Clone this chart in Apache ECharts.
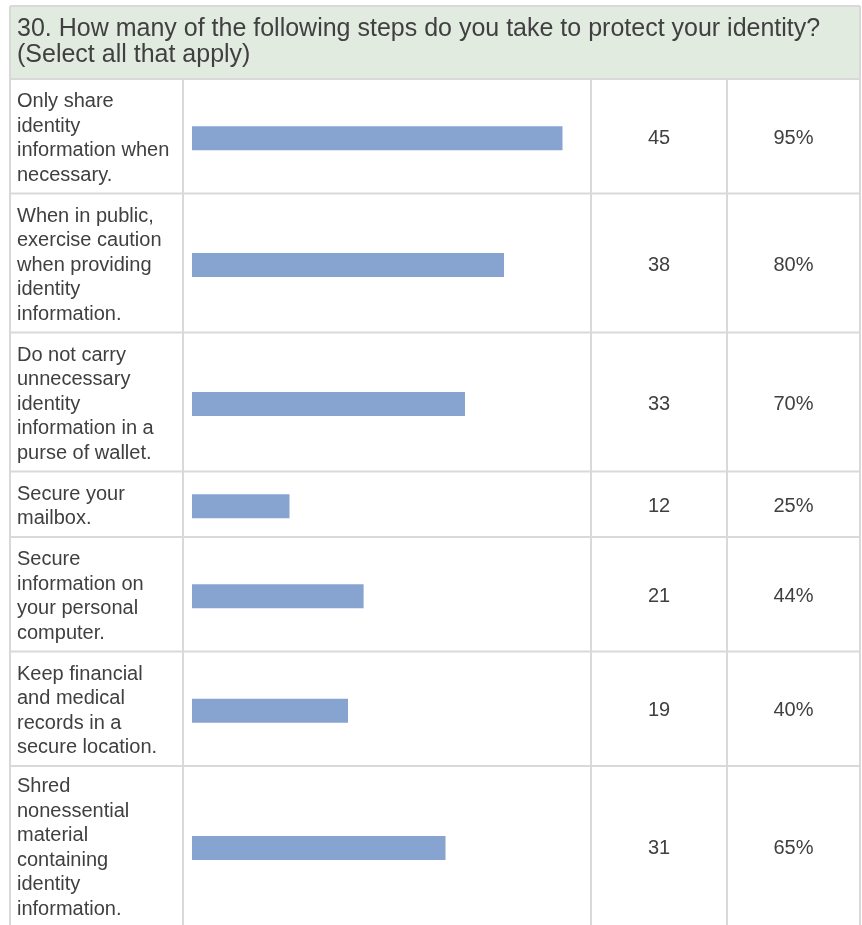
<!DOCTYPE html>
<html><head><meta charset="utf-8">
<script src="https://cdn.jsdelivr.net/npm/echarts@6/dist/echarts.min.js"></script>
<style>html,body{margin:0;padding:0;background:#fff}#c{width:862px;height:925px}</style>
</head><body><div id="c"></div>
<script>
// ---- data ----
const titleText = "30. How many of the following steps do you take to protect your identity?\n(Select all that apply)";
const categories = [
  "Only share\nidentity\ninformation when\nnecessary.",
  "When in public,\nexercise caution\nwhen providing\nidentity\ninformation.",
  "Do not carry\nunnecessary\nidentity\ninformation in a\npurse of wallet.",
  "Secure your\nmailbox.",
  "Secure\ninformation on\nyour personal\ncomputer.",
  "Keep financial\nand medical\nrecords in a\nsecure location.",
  "Shred\nnonessential\nmaterial\ncontaining\nidentity\ninformation."
];
const counts = [45, 38, 33, 12, 21, 19, 31];
const percents = [95, 80, 70, 25, 44, 40, 65];

// ---- layout ----
const FONT = "'Liberation Sans', Arial, Helvetica, sans-serif";
const TEXT = '#404040';
const LINE = '#d9d9d9';
const LEFT = 10, RIGHT = 860, TOP = 6, HEAD_B = 79;
const COL1 = 183, COL2 = 591, COL3 = 727;
const BAR_L = 192, BAR_W = 390;
const LH = 24.5, PAD = 16.5, SHIFT = 2;

const rowTops = [], rowHs = [];
let y = HEAD_B;
categories.forEach(c => {
  const h = c.split('\n').length * LH + PAD;
  rowTops.push(y); rowHs.push(h); y += h;
});

const grids = [], xAxes = [], yAxes = [], series = [];
categories.forEach((c, i) => {
  const extra = i === categories.length - 1 ? 3 : 0;
  grids.push({left: BAR_L, width: BAR_W, top: rowTops[i] + SHIFT + extra, height: rowHs[i]});
  xAxes.push({type: 'value', gridIndex: i, min: 0, max: 100, show: false});
  yAxes.push({
    type: 'category', gridIndex: i, data: [c], position: 'left',
    axisLine: {show: false}, axisTick: {show: false}, splitLine: {show: false},
    axisLabel: {margin: BAR_L - 17, align: 'left', color: TEXT, fontFamily: FONT,
      fontSize: 20, lineHeight: LH, verticalAlign: 'middle'}
  });
  yAxes.push({
    type: 'category', gridIndex: i, data: [counts[i] + '|' + percents[i] + '%'], position: 'right',
    axisLine: {show: false}, axisTick: {show: false}, splitLine: {show: false},
    axisLabel: {
      margin: COL2 - (BAR_L + BAR_W), align: 'left',
      formatter: v => { const p = v.split('|'); return '{c|' + p[0] + '}{p|' + p[1] + '}'; },
      rich: {
        c: {width: COL3 - COL2, align: 'center', color: TEXT, fontFamily: FONT, fontSize: 20},
        p: {width: RIGHT - COL3, align: 'center', color: TEXT, fontFamily: FONT, fontSize: 20}
      }
    }
  });
  series.push({
    type: 'bar', xAxisIndex: i, yAxisIndex: 2 * i, data: [percents[i]],
    barWidth: 24, itemStyle: {color: '#87a3d0'}, silent: true
  });
});

// table lines
const H = 925;
const graphics = [
  {type: 'rect', shape: {x: LEFT, y: TOP, width: RIGHT - LEFT, height: HEAD_B - TOP}, style: {fill: '#e2ebe0'}, z: -10}
];
function ln(x1, y1, x2, y2) {
  graphics.push({type: 'line', shape: {x1, y1, x2, y2}, style: {stroke: LINE, lineWidth: 2}, z: -5});
}
ln(LEFT, TOP, RIGHT, TOP);
ln(LEFT, TOP, LEFT, H);
ln(RIGHT, TOP, RIGHT, H);
ln(LEFT, HEAD_B, RIGHT, HEAD_B);
[COL1, COL2, COL3].forEach(x => ln(x, HEAD_B, x, H));
rowTops.forEach((t, i) => ln(LEFT, t + rowHs[i], RIGHT, t + rowHs[i]));

const chart = echarts.init(document.getElementById('c'), null, {renderer: 'canvas'});
chart.setOption({
  animation: false,
  backgroundColor: '#fff',
  title: {text: titleText, left: 12, top: 11,
    textStyle: {color: TEXT, fontFamily: FONT, fontSize: 25, fontWeight: 'normal', lineHeight: 26}},
  grid: grids, xAxis: xAxes, yAxis: yAxes, series: series,
  graphic: graphics
});
</script></body></html>
